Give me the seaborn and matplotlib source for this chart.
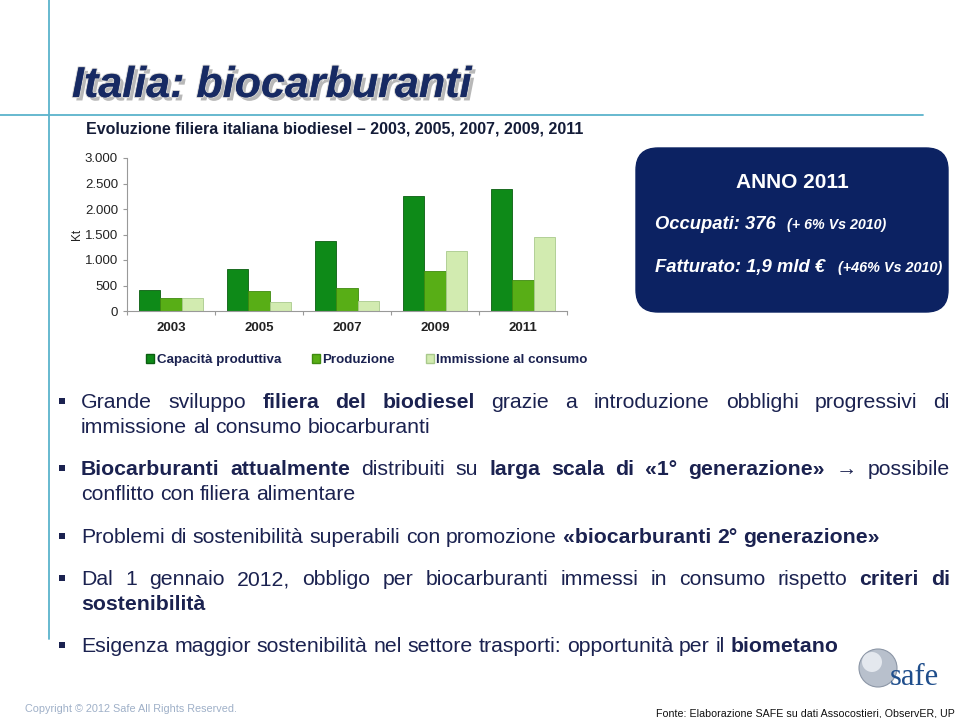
import numpy as np
import pandas as pd
import matplotlib
matplotlib.use("Agg")
import matplotlib.pyplot as plt
import seaborn as sns
from matplotlib.patches import FancyBboxPatch, Rectangle, Patch, Circle
from matplotlib.transforms import IdentityTransform
from matplotlib.lines import Line2D
import matplotlib.patheffects as pe
from matplotlib.ticker import FuncFormatter

# ---------------- data ----------------
years = ["2003", "2005", "2007", "2009", "2011"]
series_names = ["Capacità produttiva", "Produzione", "Immissione al consumo"]
capacita = [410, 820, 1365, 2260, 2390]
produzione = [260, 385, 460, 790, 615]
immissione = [255, 178, 200, 1185, 1455]
y_ticks = [0, 500, 1000, 1500, 2000, 2500, 3000]

sns.set_theme(style="white")
FONT = ["Liberation Sans", "DejaVu Sans"]
plt.rcParams["font.family"] = FONT

W, H = 960, 718
fig = plt.figure(figsize=(9.6, 7.18), dpi=100)
fig.patch.set_facecolor("white")

NAVY = "#1B2250"
LINE = "#5BB3CC"

def fx(x):
    return x / W

def fy(y):
    return 1 - y / H

# decorative frame lines
fig.add_artist(Line2D([fx(49), fx(49)], [fy(0), fy(639)], color=LINE, lw=1.3, transform=fig.transFigure))
fig.add_artist(Line2D([fx(0), fx(923)], [fy(115), fy(115)], color=LINE, lw=1.3, transform=fig.transFigure))

# title
fig.text(fx(72), fy(97), "Italia: biocarburanti", fontsize=31, fontweight="bold", fontstyle="italic",
         color="#172A63", va="baseline", ha="left",
         path_effects=[pe.withSimplePatchShadow(offset=(2.5, -2.5), shadow_rgbFace="#8A8A8A", alpha=0.6),
                       pe.withStroke(linewidth=1.5, foreground="#D0D0D0"), pe.Normal()])
fig.text(fx(86), fy(134), "Evoluzione filiera italiana biodiesel – 2003, 2005, 2007, 2009, 2011",
         fontsize=11.5, fontweight="bold", color="#141C38", va="baseline", ha="left")

# ---------------- chart ----------------
df = pd.DataFrame({
    "Anno": years * 3,
    "Serie": [series_names[0]] * 5 + [series_names[1]] * 5 + [series_names[2]] * 5,
    "Kt": capacita + produzione + immissione,
})
palette = {series_names[0]: "#0E8A18", series_names[1]: "#58AE16", series_names[2]: "#D2EBB0"}
edges = {series_names[0]: "#0A5E10", series_names[1]: "#3F8A10", series_names[2]: "#A9C98C"}

ax = fig.add_axes([fx(127), fy(311), fx(567) - fx(127), fy(158) - fy(311)])
sns.barplot(data=df, x="Anno", y="Kt", hue="Serie", palette=palette, order=years,
            hue_order=series_names, width=0.72, gap=0, ax=ax, legend=False, errorbar=None,
            saturation=1)
for cont, name in zip(ax.containers, series_names):
    for b in cont:
        b.set_edgecolor(edges[name])
        b.set_linewidth(0.6)
ax.set_ylim(0, 3000)
ax.set_xlim(-0.5, 4.5)
ax.set_yticks(y_ticks)
ax.yaxis.set_major_formatter(FuncFormatter(lambda v, p: f"{int(v):,}".replace(",", ".")))
ax.tick_params(axis="y", labelsize=9.5, colors="#999999", length=3, left=True, width=0.8, labelcolor="#222222")
ax.tick_params(axis="x", labelsize=9.5, length=0, pad=8, labelcolor="#222222")
for t in ax.get_xticklabels():
    t.set_fontweight("bold")
ax.set_xticks(np.arange(-0.5, 5.0, 1.0), minor=True)
ax.tick_params(axis="x", which="minor", bottom=True, length=3, color="#999999", width=0.8)
ax.set_xlabel("")
ax.set_ylabel("Kt", fontsize=8.5, color="#222222", labelpad=1)
ax.set_facecolor("white")
for s in ["top", "right"]:
    ax.spines[s].set_visible(False)
for s in ["left", "bottom"]:
    ax.spines[s].set_color("#999999")
    ax.spines[s].set_linewidth(0.8)
ax.grid(False)

# legend
handles = [Patch(facecolor=palette[n], edgecolor=edges[n], label=n) for n in series_names]
leg = fig.legend(handles=handles, loc="center", bbox_to_anchor=(fx(367), fy(360)), ncol=3, frameon=False,
                 handlelength=0.6, handleheight=0.6, handletextpad=0.2, columnspacing=2.3,
                 prop={"family": FONT, "weight": "bold", "size": 9.6})
for t in leg.get_texts():
    t.set_color(NAVY)

# ---------------- info box ----------------
box = FancyBboxPatch((636, H - 312), 312, 164, boxstyle="round,pad=0,rounding_size=22",
                     facecolor="#0C2262", edgecolor="#0C2262", transform=IdentityTransform())
fig.add_artist(box)
fig.text(fx(792), fy(188), "ANNO 2011", fontsize=15, fontweight="bold", color="white", ha="center", va="baseline")
fig.text(fx(655), fy(229), "Occupati: 376", fontsize=13.2, fontweight="bold", fontstyle="italic",
         color="white", ha="left", va="baseline")
fig.text(fx(787), fy(229), "(+ 6% Vs 2010)", fontsize=10.3, fontweight="bold", fontstyle="italic",
         color="white", ha="left", va="baseline")
fig.text(fx(655), fy(272), "Fatturato: 1,9 mld €", fontsize=13.3, fontweight="bold", fontstyle="italic",
         color="white", ha="left", va="baseline")
fig.text(fx(838), fy(272), "(+46% Vs 2010)", fontsize=10.4, fontweight="bold", fontstyle="italic",
         color="white", ha="left", va="baseline")

# ---------------- bullet text ----------------
renderer = fig.canvas.get_renderer()
BODY = 15.3

def draw_line(segments, x0, y, x1=None):
    words = []
    for text, bold in segments:
        for w in text.split():
            words.append((w, bold))
    arts = []
    widths = []
    for w, bold in words:
        t = fig.text(0, 0, w, fontsize=BODY, fontweight="bold" if bold else "normal",
                     color=NAVY, ha="left", va="baseline", family=FONT)
        bb = t.get_window_extent(renderer=renderer)
        arts.append(t)
        widths.append(bb.width)
    sp = fig.text(0, 0, "a a", fontsize=BODY, family=FONT)
    spa = fig.text(0, 0, "aa", fontsize=BODY, family=FONT)
    space = sp.get_window_extent(renderer=renderer).width - spa.get_window_extent(renderer=renderer).width
    sp.remove(); spa.remove()
    if x1 is not None and len(words) > 1:
        space = (x1 - x0 - sum(widths)) / (len(words) - 1)
    x = x0
    for t, w in zip(arts, widths):
        t.set_position((fx(x), fy(y)))
        x += w + space

def bullet(y):
    fig.add_artist(Rectangle((59, H - y - 3), 6, 6, facecolor=NAVY, edgecolor="none", transform=IdentityTransform()))

X0, X1 = 81, 950
bullet(401)
draw_line([("Grande sviluppo", False), ("filiera del biodiesel", True),
           ("grazie a introduzione obblighi progressivi di", False)], X0, 408, X1)
draw_line([("immissione al consumo biocarburanti", False)], X0, 433)
bullet(468)
draw_line([("Biocarburanti attualmente", True), ("distribuiti su", False),
           ("larga scala di «1° generazione»", True), ("→ possibile", False)], X0, 475, X1)
draw_line([("conflitto con filiera alimentare", False)], X0, 500)
bullet(536)
draw_line([("Problemi di sostenibilità superabili con promozione", False),
           ("«biocarburanti 2° generazione»", True)], X0, 543)
bullet(578)
draw_line([("Dal 1 gennaio 2012, obbligo per biocarburanti immessi in consumo rispetto", False),
           ("criteri di", True)], X0, 585, X1)
draw_line([("sostenibilità", True)], X0, 610)
bullet(645)
draw_line([("Esigenza maggior sostenibilità nel settore trasporti: opportunità per il", False),
           ("biometano", True)], X0, 652)

# ---------------- logo & footer ----------------
fig.add_artist(Circle((878, H - 668), 19, facecolor="#B8C0CC", edgecolor="#8C96A6", lw=0.8,
                      transform=IdentityTransform()))
fig.add_artist(Circle((872, H - 662), 10, facecolor="#E4E8EE", edgecolor="none", transform=IdentityTransform()))
fig.text(fx(890), fy(685), "safe", fontsize=22, family=["Liberation Serif", "DejaVu Serif"],
         color="#1F4E8C", ha="left", va="baseline")
fig.text(fx(25), fy(712), "Copyright © 2012 Safe All Rights Reserved.", fontsize=7.8, color="#9FB0C8",
         ha="left", va="baseline")
fig.text(fx(955), fy(716), "Fonte: Elaborazione SAFE su dati Assocostieri, ObservER, UP", fontsize=7.7,
         family=FONT, color="#111111", ha="right", va="baseline")

fig.savefig("out.png", dpi=100)
